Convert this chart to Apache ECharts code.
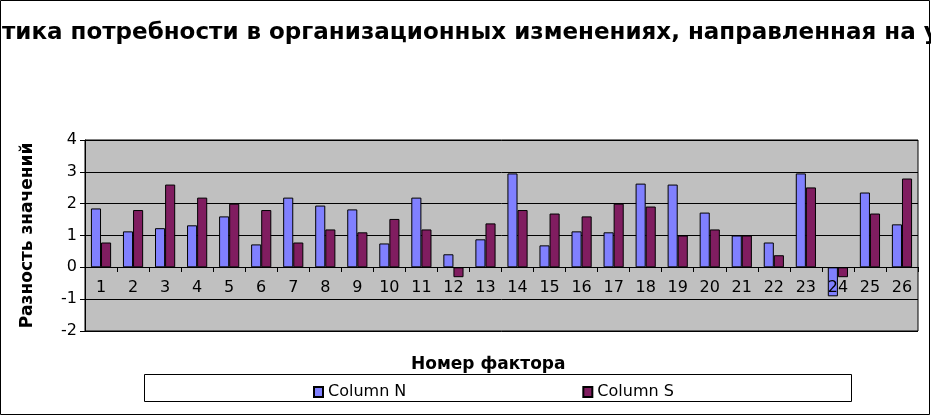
<!DOCTYPE html>
<html>
<head>
<meta charset="utf-8">
<script src="https://cdn.jsdelivr.net/npm/echarts@6/dist/echarts.min.js"></script>
<style>
html,body{margin:0;padding:0;background:#fff;}
#c{width:931px;height:416px;}
</style>
</head>
<body>
<div id="c"></div>
<script>
var categories = ['1','2','3','4','5','6','7','8','9','10','11','12','13','14','15','16','17','18','19','20','21','22','23','24','25','26'];
var columnN = [1.85,1.13,1.23,1.32,1.6,0.72,2.19,1.94,1.82,0.75,2.19,0.41,0.88,2.95,0.69,1.13,1.1,2.63,2.6,1.72,1.0,0.78,2.95,-0.91,2.35,1.35];
var columnS = [0.78,1.8,2.6,2.19,2.0,1.8,0.78,1.19,1.1,1.52,1.19,-0.31,1.38,1.8,1.69,1.6,2.0,1.91,1.0,1.19,1.0,0.38,2.51,-0.31,1.69,2.79];
var titleText = 'тика потребности в организационных изменениях, направленная на у';
var yAxisTitle = 'Разность значений';
var xAxisTitle = 'Номер фактора';

var chart = echarts.init(document.getElementById('c'), null, {renderer:'canvas'});
var font = 'DejaVu Sans';
chart.setOption({
  animation:false,
  backgroundColor:'#fff',
  grid:{left:85,right:13,top:140,bottom:85,show:true,backgroundColor:'#C0C0C0',borderColor:'#000',borderWidth:1},
  legend:{
    left:308, top:379, itemWidth:9, itemHeight:10, itemGap:176,
    icon:'rect',
    textStyle:{fontFamily:font,fontSize:16,color:'#000'},
    data:['Column N','Column S']
  },
  xAxis:{
    type:'category', data:categories, position:'bottom', offset:-64, z:5,
    axisLine:{onZero:false,lineStyle:{color:'#000',width:1}},
    axisTick:{show:true,length:5,lineStyle:{color:'#000'}},
    axisLabel:{fontFamily:font,fontSize:16,color:'#000',margin:13},
    splitLine:{show:false}
  },
  yAxis:{
    type:'value', min:-2, max:4, interval:1,
    name:yAxisTitle, nameLocation:'middle', nameRotate:90, nameGap:49,
    nameTextStyle:{fontFamily:font,fontSize:17,fontWeight:'bold',color:'#000'},
    axisLine:{show:true,lineStyle:{color:'#000'}},
    axisTick:{show:true,length:5,lineStyle:{color:'#000'}},
    axisLabel:{fontFamily:font,fontSize:16,color:'#000',margin:8},
    splitLine:{show:true,lineStyle:{color:'#000',width:1}}
  },
  series:[
    {name:'Column N',type:'bar',data:columnN,barGap:'0%',barCategoryGap:'37%',
     itemStyle:{color:'#8080FF',borderColor:'#000',borderWidth:1}},
    {name:'Column S',type:'bar',data:columnS,barGap:'0%',barCategoryGap:'37%',
     itemStyle:{color:'#801D60',borderColor:'#000',borderWidth:1}}
  ],
  graphic:[
    {type:'rect',shape:{x:0.5,y:0.5,width:929,height:414},style:{fill:null,stroke:'#000',lineWidth:1},silent:true,z:100},
    {type:'rect',shape:{x:144.5,y:374.5,width:707,height:27},style:{fill:null,stroke:'#000',lineWidth:1},silent:true,z:100},
    {type:'text',left:2,top:22,style:{text:titleText,font:'bold 23px "DejaVu Sans"',fill:'#000'}},
    {type:'text',left:411,top:356,style:{text:xAxisTitle,font:'bold 17px "DejaVu Sans"',fill:'#000'}}
  ]
});
</script>
</body>
</html>
